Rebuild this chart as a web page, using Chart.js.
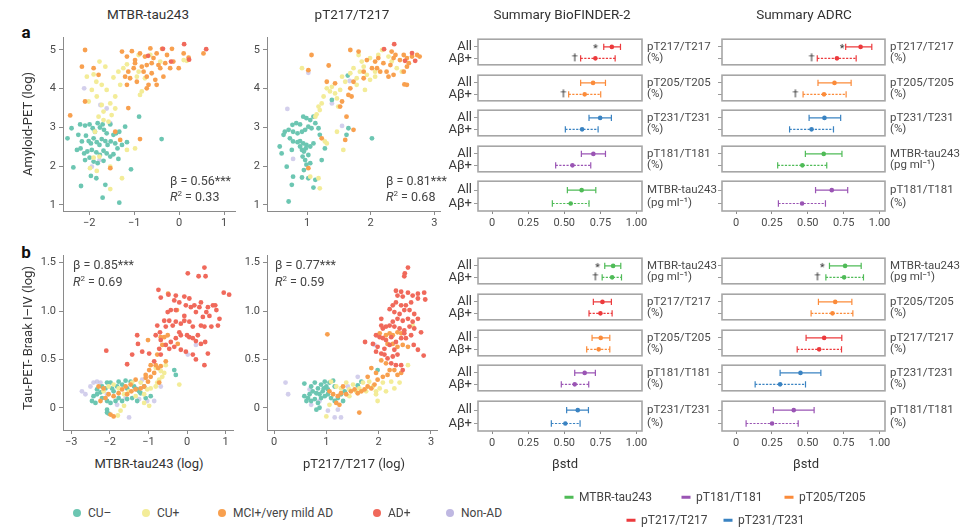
<!DOCTYPE html>
<html lang="en">
<head>
<meta charset="UTF-8">
<title>MTBR-tau243 and p-tau vs amyloid-PET and tau-PET</title>
<script src="https://cdn.jsdelivr.net/npm/chart.js"></script>
<style>
  body { margin: 0; background: #fff; }
  #fig { position: relative; width: 972px; height: 529px; overflow: hidden; font-family: Roboto, "Liberation Sans", sans-serif; color: #3a3a3a; }
  #fig canvas { position: absolute; }
  .t { position: absolute; white-space: nowrap; line-height: 1; }
</style>
</head>
<body>
<div id="fig"></div>
<script>
// ---- groups (scatter) ----
const groupNames = ['CU\u2013', 'CU+', 'MCI+/very mild AD', 'AD+', 'Non-AD'];
const groupColors = ['#6cc6b2', '#f3ec98', '#f8a04f', '#f0695b', 'rgba(196,191,230,0.75)'];
const groupLegendColors = ['#6cc6b2', '#f3ec98', '#f8a04f', '#f0695b', '#bfb8e2'];
const groupOrder = [3, 2, 1, 0, 4];

// panel a, MTBR-tau243 (log) vs amyloid-PET (log)
const a1_cuNeg = [[-2.39,2.98],[-2.48,2.72],[-2.35,1.97],[-2.18,1.49],[-1.96,1.75],[-1.84,1.69],[-1.70,1.19],[-1.64,1.52],[-1.33,1.06],[-1.07,1.92],[-1.16,2.62],[-1.20,3.02],[-0.89,3.28],[-0.39,2.70],[-2.20,3.08],[-2.09,3.05],[-1.99,3.08],[-1.92,2.98],[-1.87,2.89],[-1.81,3.11],[-1.76,3.00],[-1.70,3.08],[-1.67,2.94],[-1.61,2.85],[-1.53,3.08],[-1.46,2.81],[-1.40,2.85],[-1.33,2.89],[-2.24,2.81],[-2.16,2.64],[-2.07,2.79],[-2.01,2.65],[-1.96,2.59],[-1.90,2.72],[-1.83,2.62],[-1.77,2.55],[-1.72,2.70],[-1.64,2.65],[-1.59,2.55],[-1.52,2.64],[-1.42,2.59],[-1.37,2.46],[-1.27,2.55],[-2.27,2.42],[-2.19,2.46],[-2.11,2.33],[-2.04,2.38],[-1.94,2.42],[-1.84,2.36],[-1.76,2.29],[-1.68,2.40],[-1.61,2.33],[-1.53,2.25],[-1.46,2.31],[-1.35,2.19],[-2.09,2.16],[-1.99,2.22],[-1.90,2.12],[-1.81,2.08],[-1.68,2.14]];
const a1_cuPos = [[-1.77,4.70],[-1.64,4.57],[-1.90,4.37],[-2.05,4.31],[-1.84,4.18],[-1.72,4.10],[-1.61,3.97],[-1.46,4.29],[-1.35,4.44],[-1.24,4.53],[-1.16,4.63],[-0.94,4.31],[-0.87,3.84],[-0.83,3.93],[-1.31,4.10],[-1.42,3.80],[-1.53,3.62],[-1.72,3.58],[-1.83,3.80],[-1.94,3.97],[-2.01,3.67],[-1.79,3.28],[-1.68,3.19],[-1.50,3.32],[-1.42,3.49],[-1.87,2.89],[-1.16,2.42],[-0.98,2.46],[-1.53,1.99],[-1.27,1.69],[-1.53,1.41],[-1.83,1.88],[-1.90,2.22],[-1.98,1.95],[-0.90,4.87],[-0.64,4.87],[-0.42,4.70],[0.10,4.74],[0.17,4.72],[-0.76,4.27],[-0.90,4.44],[-1.68,3.41],[-1.57,3.15],[-1.77,2.25]];
const a1_mci = [[-2.09,5.00],[-2.16,4.57],[-1.90,4.53],[-1.79,4.36],[-2.09,3.67],[-2.42,3.31],[-1.13,3.50],[-1.53,1.95],[-1.31,2.68],[-0.87,2.70],[-1.42,2.89],[-1.27,4.96],[-1.16,4.83],[-1.05,4.97],[-0.98,4.74],[-0.87,4.91],[-0.76,4.83],[-0.72,4.61],[-0.64,5.04],[-0.57,4.79],[-0.50,4.91],[-0.38,5.03],[-0.42,4.53],[-0.27,4.87],[-0.16,5.03],[-0.13,4.70],[-0.20,4.53],[-0.35,4.31],[-0.50,4.10],[-0.68,4.10],[-0.79,4.44],[-1.01,4.53],[-1.09,4.27],[-0.98,4.66],[-0.83,4.57],[-0.61,4.40],[-0.53,4.23],[-0.72,4.31],[0.10,4.91],[0.21,4.80],[0.54,4.91],[-0.61,4.66],[-0.46,4.61],[-0.31,4.66],[-0.01,4.53],[-0.94,4.18],[-1.13,4.44],[-1.20,4.31],[-1.16,4.10],[-0.72,4.01]];
const a1_ad = [[0.11,5.15],[0.60,5.02],[-0.36,5.03],[-0.18,4.70],[0.22,4.75],[-0.69,4.85]];
const a1_nonAd = [[-2.11,4.01],[-1.75,3.58],[-1.61,3.49],[-1.94,1.99],[-1.53,3.11],[-1.77,2.16]];

// panel a, pT217/T217 (log) vs amyloid-PET (log)
const a2_cuNeg = [[0.94,3.28],[0.99,3.24],[1.05,3.19],[1.10,3.28],[1.13,3.11],[0.89,3.08],[0.83,3.11],[0.77,3.07],[0.71,2.94],[0.65,2.89],[0.63,2.81],[0.78,2.89],[0.85,2.85],[0.92,2.89],[0.97,2.94],[1.02,3.02],[1.07,2.98],[1.18,2.98],[1.20,2.81],[0.73,2.72],[0.78,2.64],[0.85,2.62],[0.89,2.65],[0.94,2.59],[0.99,2.55],[1.05,2.51],[1.10,2.59],[0.89,2.51],[0.92,2.42],[0.95,2.38],[0.98,2.46],[1.02,2.29],[0.93,2.25],[0.97,2.16],[0.99,2.04],[0.95,1.90],[1.05,2.08],[0.57,2.51],[0.60,2.33],[0.76,2.42],[0.68,1.99],[0.78,1.73],[0.76,1.52],[0.71,1.09],[0.92,1.71],[1.02,1.69],[1.13,1.65],[1.10,1.45],[1.23,2.16],[1.28,2.46],[1.62,2.81],[1.65,2.98],[2.02,2.72],[1.39,3.71],[1.64,4.34]];
const a2_cuPos = [[0.92,4.53],[1.18,3.54],[1.23,3.62],[1.26,3.80],[1.36,3.93],[1.44,3.88],[1.52,3.97],[1.47,3.75],[1.49,3.54],[1.55,4.31],[1.60,4.18],[1.68,4.40],[1.73,4.53],[1.78,4.27],[1.83,4.44],[1.89,4.57],[1.94,4.36],[1.99,4.23],[2.07,4.31],[1.86,4.70],[1.99,4.79],[2.12,4.87],[2.18,5.00],[2.28,4.83],[2.33,4.70],[2.41,4.53],[2.49,4.44],[1.31,4.01],[1.39,4.05],[1.13,3.28],[1.15,3.34],[1.20,3.45],[1.28,2.64],[1.31,2.59],[1.57,2.42],[1.20,1.43],[1.18,1.69],[1.05,1.73],[1.78,4.10],[1.91,3.97],[2.07,4.44],[1.81,4.87],[1.47,2.89]];
const a2_mci = [[1.07,4.87],[1.02,4.48],[1.34,4.60],[1.68,5.00],[1.81,4.96],[1.94,4.74],[2.07,4.70],[2.10,4.53],[2.20,4.66],[2.25,4.44],[2.31,4.61],[2.36,4.79],[2.39,4.87],[2.46,4.74],[2.52,4.87],[2.57,4.79],[2.60,4.66],[2.65,4.83],[2.73,4.87],[2.77,4.83],[2.57,4.57],[2.52,4.44],[2.36,4.36],[2.28,4.31],[2.15,4.44],[2.02,4.53],[1.89,4.44],[1.73,4.18],[1.68,4.01],[1.65,3.84],[1.70,3.80],[1.55,3.67],[1.52,3.54],[1.62,3.28],[1.73,2.94],[1.60,2.68],[1.23,2.72],[2.53,4.11],[2.57,4.10],[1.02,1.95],[1.31,4.18],[1.44,4.14],[1.89,4.27],[2.12,4.79],[2.33,4.96]];
const a2_ad = [[2.37,5.15],[2.65,4.92],[2.70,4.72],[2.54,4.72],[2.21,5.02]];
const a2_nonAd = [[0.69,3.48],[0.78,2.19],[1.55,3.04],[1.67,4.20],[1.02,4.41],[1.39,3.62]];

// panel b, MTBR-tau243 (log) vs tau-PET Braak I-IV (log)
const b1_cuNeg = [[-2.42,0.12],[-2.33,0.19],[-2.24,0.16],[-2.20,0.22],[-2.11,0.20],[-2.07,0.26],[-1.98,0.26],[-1.94,0.20],[-1.90,0.17],[-1.81,0.22],[-1.77,0.27],[-1.68,0.24],[-1.59,0.28],[-1.55,0.20],[-1.46,0.27],[-1.37,0.22],[-1.29,0.19],[-1.20,0.15],[-1.11,0.22],[-2.46,0.07],[-2.37,0.05],[-2.20,0.10],[-2.07,0.07],[-1.98,0.05],[-1.85,0.07],[-1.77,0.10],[-1.68,0.07],[-1.55,0.09],[-1.42,0.10],[-1.29,0.07],[-1.07,0.10],[-0.94,0.12],[-2.07,-0.02],[-2.07,-0.05],[-2.03,-0.06],[-1.24,0.17],[-0.33,0.39],[-0.29,0.34],[-2.33,0.14]];
const b1_cuPos = [[-2.16,0.17],[-2.03,0.22],[-1.90,0.24],[-1.77,0.20],[-1.63,0.14],[-1.50,0.17],[-1.42,0.26],[-1.33,0.12],[-1.20,0.26],[-1.11,0.14],[-1.03,0.19],[-0.94,0.20],[-0.81,0.22],[-0.77,0.26],[-0.72,0.29],[-0.64,0.32],[-0.59,0.36],[-0.81,0.41],[-0.68,0.38],[-0.55,0.44],[-1.11,0.05],[-1.63,0.02],[-1.72,-0.03],[-1.79,-0.08],[-0.20,0.24],[-0.98,0.02]];
const b1_mci = [[-1.01,0.70],[-0.49,1.18],[-0.26,1.01],[-0.68,0.73],[-0.59,0.73],[-0.50,0.75],[-0.64,0.65],[-0.77,0.55],[-0.81,0.44],[-0.75,0.41],[-0.94,0.44],[-0.98,0.39],[-1.07,0.34],[-0.94,0.32],[-0.85,0.36],[-0.68,0.43],[-0.55,0.48],[-1.01,0.27],[-1.11,0.22],[-1.20,0.20],[-1.33,0.19],[-1.44,0.17],[-1.55,0.14],[-1.68,0.19],[-1.59,0.22],[-1.46,0.24],[-1.77,0.15],[-1.90,0.12],[-2.03,0.14],[-2.11,0.10],[-2.24,0.07],[-2.16,0.20],[-2.29,0.22],[-1.98,-0.07],[-1.90,-0.09],[-1.33,0.29],[-1.07,0.31],[-0.24,0.66],[-0.72,0.26]];
const b1_ad = [[-2.09,0.59],[0.02,1.39],[0.30,1.36],[0.45,1.45],[0.48,1.36],[0.95,1.19],[1.09,1.17],[-0.74,1.22],[-0.68,1.14],[-0.48,1.17],[-0.29,1.16],[-0.33,1.11],[-0.20,1.09],[-0.07,1.15],[-0.03,1.06],[0.06,1.13],[0.10,1.04],[0.19,1.06],[0.23,0.99],[0.32,1.04],[0.41,0.94],[0.36,1.09],[0.54,1.04],[0.58,0.95],[0.67,1.06],[0.73,1.06],[0.76,1.01],[0.84,0.92],[0.80,0.85],[0.63,0.84],[0.45,0.84],[0.36,0.85],[0.15,0.84],[0.06,0.89],[-0.07,0.90],[-0.16,0.87],[-0.29,0.89],[-0.37,0.85],[-0.46,0.90],[-0.55,0.84],[-0.59,0.90],[-0.70,0.78],[-0.81,0.75],[-0.77,0.85],[-0.68,0.70],[-0.72,0.61],[-0.55,0.65],[-0.42,0.68],[-0.29,0.72],[-0.20,0.78],[-0.16,0.75],[0.00,0.75],[0.06,0.73],[0.15,0.72],[0.28,0.75],[0.36,0.66],[0.47,0.68],[0.54,0.56],[0.45,0.44],[0.23,0.50],[0.15,0.55],[-0.03,0.58],[-0.16,0.60],[-0.33,0.63],[-0.46,0.61],[-0.68,0.55],[-1.29,0.75],[-1.27,0.66],[-1.42,0.55],[-1.55,0.45],[-1.16,0.58],[-0.98,0.56],[-0.85,0.48],[0.23,0.69],[0.50,0.99],[-0.07,0.95],[-0.29,1.01],[-0.42,1.01],[-0.50,0.99]];
const b1_nonAd = [[-2.72,0.17],[-2.63,0.14],[-2.50,0.22],[-2.42,0.26],[-2.33,0.27],[-2.24,0.26],[-2.07,0.14],[-1.81,0.03],[-1.59,0.10],[-1.50,-0.10],[-1.33,0.20],[-1.24,0.09],[-1.16,0.29],[-1.03,0.07],[-0.85,0.07],[-0.68,0.22],[0.23,0.65],[0.02,0.55]];

// panel b, pT217/T217 (log) vs tau-PET Braak I-IV (log)
const b2_cuNeg = [[0.58,0.25],[0.71,0.22],[0.78,0.26],[0.84,0.20],[0.90,0.24],[0.97,0.27],[1.00,0.22],[1.06,0.26],[1.13,0.28],[1.16,0.22],[0.93,0.17],[0.87,0.14],[0.81,0.15],[0.74,0.17],[0.68,0.14],[0.65,0.10],[0.58,0.12],[0.62,0.07],[0.71,0.07],[0.78,0.09],[0.84,0.05],[0.90,0.10],[0.97,0.12],[1.03,0.14],[1.09,0.10],[1.16,0.07],[1.22,0.10],[1.28,0.14],[1.35,0.17],[1.32,0.07],[0.81,-0.02],[0.87,0.00],[0.95,0.20],[1.03,0.19],[1.98,0.39],[1.60,0.23],[1.67,0.27]];
const b2_cuPos = [[1.09,0.27],[1.19,0.22],[1.28,0.20],[1.38,0.26],[1.44,0.19],[1.51,0.24],[1.57,0.17],[1.63,0.20],[1.70,0.26],[1.76,0.17],[1.82,0.27],[1.89,0.22],[1.95,0.17],[2.02,0.20],[2.08,0.26],[2.14,0.17],[2.24,0.27],[2.30,0.20],[2.40,0.26],[1.06,0.03],[1.00,-0.09],[1.95,0.14],[1.98,0.07],[1.44,0.12],[2.56,0.44],[2.65,0.85]];
const b2_mci = [[1.02,0.76],[1.63,-0.05],[2.02,0.77],[2.14,0.75],[2.21,0.77],[2.27,0.75],[2.36,0.78],[2.43,0.77],[2.17,0.66],[2.27,0.66],[2.36,0.63],[2.46,0.65],[2.56,0.63],[2.05,0.49],[2.14,0.46],[2.21,0.39],[2.30,0.39],[2.36,0.34],[2.43,0.36],[2.17,0.34],[2.08,0.32],[1.98,0.29],[1.92,0.24],[1.86,0.20],[1.79,0.22],[1.73,0.19],[1.67,0.17],[1.60,0.15],[1.54,0.19],[1.47,0.17],[1.38,0.14],[1.28,0.15],[1.22,0.12],[1.13,0.14],[1.06,0.17],[1.32,0.22],[1.86,0.41],[1.79,0.32],[1.95,0.36],[1.19,0.05],[1.25,0.03]];
const b2_ad = [[2.56,1.45],[2.50,1.39],[2.49,1.36],[2.33,1.21],[2.43,1.20],[2.36,1.16],[2.46,1.15],[2.56,1.19],[2.65,1.16],[2.75,1.18],[2.87,1.19],[2.89,1.12],[2.75,1.13],[2.62,1.09],[2.52,1.06],[2.43,1.06],[2.33,1.09],[2.27,1.06],[2.21,1.02],[2.30,0.99],[2.40,0.97],[2.49,1.01],[2.59,1.01],[2.68,0.97],[2.75,0.92],[2.65,0.89],[2.56,0.92],[2.46,0.90],[2.36,0.92],[2.27,0.89],[2.21,0.85],[2.14,0.84],[2.08,0.82],[2.05,0.85],[2.30,0.84],[2.40,0.82],[2.49,0.80],[2.59,0.84],[2.68,0.82],[2.81,0.78],[2.62,0.75],[2.52,0.72],[2.43,0.72],[2.33,0.68],[2.24,0.73],[2.14,0.70],[2.08,0.72],[2.02,0.73],[1.95,0.75],[1.89,0.66],[1.98,0.63],[2.11,0.61],[2.21,0.65],[2.30,0.60],[2.36,0.55],[2.27,0.53],[2.17,0.51],[2.11,0.55],[2.05,0.56],[2.24,0.46],[2.33,0.44],[2.43,0.44],[2.46,0.39],[2.86,0.54],[2.75,0.60],[2.67,0.65],[1.95,0.58],[1.74,0.68],[2.49,0.77],[2.05,0.92]];
const b2_nonAd = [[0.22,0.26],[0.27,0.14],[0.68,0.19],[0.71,0.03],[0.87,0.07],[1.03,-0.03],[1.16,-0.10],[1.28,-0.10],[1.22,-0.02],[1.60,0.32],[1.92,0.65],[1.41,0.22]];

// scatter axes
const a1_xTicks = [-2, -1, 0, 1];
const a2_xTicks = [1, 2, 3];
const b1_xTicks = [-3, -2, -1, 0, 1];
const b2_xTicks = [0, 1, 2, 3];
const a_yTicks = [1, 2, 3, 4, 5];
const a_yLabels = ['1', '2', '3', '4', '5'];
const b_yTicks = [0, 0.5, 1, 1.5];
const b_yLabels = ['0', '0.5', '1.0', '1.5'];
const betaText = ['0.56***', '0.81***', '0.85***', '0.77***'];
const r2Text = ['0.33', '0.68', '0.69', '0.59'];

// ---- summary (forest) panels: [lower, estimate, upper] of βstd ----
const markerColors = { 'MTBR-tau243': '#4fbb57', 'pT181/T181': '#9a55b4', 'pT205/T205': '#fb8b3a', 'pT217/T217': '#ec3a3d', 'pT231/T231': '#3a83c2' };
const markerUnits = { 'MTBR-tau243': '(pg ml\u207B\u00B9)', 'pT181/T181': '(%)', 'pT205/T205': '(%)', 'pT217/T217': '(%)', 'pT231/T231': '(%)' };
const legendMarkers = ['MTBR-tau243', 'pT181/T181', 'pT205/T205', 'pT217/T217', 'pT231/T231'];
const rowLabels = ['All', 'A\u03B2+'];
const fxTicks = [0, 0.25, 0.5, 0.75, 1];
const fxLabels = ['0', '0.25', '0.50', '0.75', '1.00'];

const bfA_names = ['pT217/T217', 'pT205/T205', 'pT231/T231', 'pT181/T181', 'MTBR-tau243'];
const bfA_all = [[0.773,0.829,0.889],[0.613,0.699,0.785],[0.671,0.748,0.826],[0.618,0.701,0.785],[0.521,0.620,0.718]];
const bfA_ab = [[0.613,0.715,0.852],[0.530,0.641,0.752],[0.507,0.623,0.734],[0.440,0.556,0.683],[0.417,0.544,0.671]];
const bfA_star = [0.715, null, null, null, null];
const bfA_dagger = [0.572, 0.493, null, null, null];

const adA_names = ['pT217/T217', 'pT205/T205', 'pT231/T231', 'MTBR-tau243', 'pT181/T181'];
const adA_all = [[0.764,0.868,0.946],[0.571,0.686,0.802],[0.509,0.616,0.729],[0.483,0.611,0.738],[0.554,0.667,0.778]];
const adA_ab = [[0.566,0.703,0.837],[0.467,0.613,0.767],[0.373,0.526,0.679],[0.290,0.462,0.632],[0.295,0.460,0.623]];
const adA_star = [0.738, null, null, null, null];
const adA_dagger = [0.526, 0.413, null, null, null];

const bfB_names = ['MTBR-tau243', 'pT217/T217', 'pT205/T205', 'pT181/T181', 'pT231/T231'];
const bfB_all = [[0.780,0.838,0.891],[0.701,0.764,0.826],[0.692,0.752,0.815],[0.572,0.641,0.715],[0.516,0.593,0.667]];
const bfB_ab = [[0.762,0.831,0.896],[0.671,0.750,0.831],[0.655,0.738,0.815],[0.479,0.572,0.669],[0.410,0.507,0.609]];
const bfB_star = [0.729, null, null, null, null];
const bfB_dagger = [0.715, null, null, null, null];

const adB_names = ['MTBR-tau243', 'pT205/T205', 'pT217/T217', 'pT231/T231', 'pT181/T181'];
const adB_all = [[0.651,0.760,0.872],[0.574,0.691,0.807],[0.488,0.614,0.737],[0.307,0.449,0.591],[0.260,0.402,0.544]];
const adB_ab = [[0.626,0.753,0.888],[0.523,0.672,0.814],[0.426,0.579,0.735],[0.133,0.307,0.484],[0.070,0.251,0.433]];
const adB_star = [0.600, null, null, null, null];
const adB_dagger = [0.567, null, null, null, null];

// ---- helpers ----
const FONT = 'Roboto, "Liberation Sans", sans-serif';
const AXIS = '#8a8a8a';
const TICK = '#4a4a4a';
Chart.defaults.font.family = FONT;
Chart.defaults.animation = false;
Chart.defaults.events = [];

const fig = document.getElementById('fig');

function addCanvas(left, top, w, h) {
    const c = document.createElement('canvas');
    c.width = w; c.height = h;
    c.style.left = left + 'px'; c.style.top = top + 'px';
    c.style.width = w + 'px'; c.style.height = h + 'px';
    fig.appendChild(c);
    return c.getContext('2d');
}

function addText(html, x, y, css, anchor) {
    const d = document.createElement('div');
    d.className = 't';
    d.innerHTML = html;
    d.style.left = x + 'px';
    d.style.top = y + 'px';
    d.style.transform = anchor || 'translate(0,-50%)';
    Object.assign(d.style, css || {});
    fig.appendChild(d);
    return d;
}

function glyph(ch, dy) {
    const c = document.createElement('canvas');
    c.width = 10; c.height = 12;
    const g = c.getContext('2d');
    g.fillStyle = '#333';
    g.font = '11px ' + FONT;
    g.textAlign = 'center';
    g.textBaseline = 'middle';
    g.fillText(ch, 5, 6 + dy);
    return c;
}
const starImg = glyph('*', 2);
const daggerImg = glyph('\u2020', 0);

// fixed axis sizes, no extra label padding
function fixX(hgt) {
    return s => { s.height = hgt; s.paddingLeft = 0; s.paddingRight = 0; s.paddingTop = 0; s.paddingBottom = 0; };
}
function fixY(wid) {
    return s => { s.width = wid; s.paddingTop = 0; s.paddingBottom = 0; s.paddingLeft = 0; s.paddingRight = 0; };
}

// scatter panel
function scatterPanel(pos, sets, xr, yr, xTicks, yTicks, yLabels) {
    const ctx = addCanvas(pos.left, pos.top, pos.w, pos.h);
    new Chart(ctx, {
        type: 'scatter',
        data: {
            datasets: sets.map((pts, g) => ({
                data: pts.map(p => ({ x: p[0], y: p[1] })),
                backgroundColor: groupColors[g],
                pointRadius: 2.4,
                borderWidth: 0,
                order: groupOrder[g]
            }))
        },
        options: {
            responsive: false,
            layout: { padding: { top: pos.pt, right: pos.pr, bottom: 0, left: 0 } },
            plugins: { legend: { display: false }, tooltip: { enabled: false } },
            scales: {
                x: {
                    min: xr[0], max: xr[1],
                    grid: { drawOnChartArea: false, tickLength: 4, color: AXIS },
                    border: { color: AXIS },
                    afterBuildTicks: s => { s.ticks = xTicks.map(v => ({ value: v })); },
                    ticks: { autoSkip: false, maxRotation: 0, padding: 2, color: TICK, font: { size: 11 },
                        callback: v => (v < 0 ? '\u2212' + Math.abs(v) : String(v)) },
                    afterFit: fixX(19)
                },
                y: {
                    min: yr[0], max: yr[1],
                    grid: { drawOnChartArea: false, tickLength: 4, color: AXIS },
                    border: { color: AXIS },
                    afterBuildTicks: s => { s.ticks = yTicks.map(v => ({ value: v })); },
                    ticks: { autoSkip: false, padding: 3, color: TICK, font: { size: 11 },
                        callback: (v, i) => yLabels[i] },
                    afterFit: fixY(30)
                }
            }
        }
    });
}

// frame around each summary box
const framePlugin = {
    id: 'frame',
    beforeDatasetsDraw(chart) {
        const a = chart.chartArea, c = chart.ctx;
        c.save();
        c.strokeStyle = '#a6a6a6';
        c.lineWidth = 1.6;
        c.strokeRect(a.left, a.top, a.right - a.left, a.bottom - a.top);
        c.restore();
    }
};

function forestPanel(left, width, yW, y2W, tops, names, allCI, abCI, stars, daggers, showRows) {
    const boxH = 34;
    names.forEach((name, i) => {
        const last = i === names.length - 1;
        const h = boxH + 2 + (last ? 18 : 0);
        const ctx = addCanvas(left, tops[i] - 1, width, h);
        const col = markerColors[name];
        const rows = [allCI[i], abCI[i]];
        const ds = rows.map((ci, r) => ({
            data: [{ x: ci[0], y: r }, { x: ci[2], y: r }],
            showLine: true,
            borderColor: col,
            borderWidth: 1.2,
            borderDash: r === 1 ? [2.2, 1.4] : [],
            pointStyle: 'line',
            rotation: 90,
            pointRadius: 3.2,
            pointBorderColor: col,
            pointBorderWidth: 1.2
        }));
        ds.push({
            data: rows.map((ci, r) => ({ x: ci[1], y: r })),
            pointRadius: 2.3,
            backgroundColor: col,
            borderWidth: 0
        });
        if (stars[i] !== null) ds.push({ data: [{ x: stars[i], y: 0 }], pointStyle: starImg });
        if (daggers[i] !== null) ds.push({ data: [{ x: daggers[i], y: 1 }], pointStyle: daggerImg });

        new Chart(ctx, {
            type: 'scatter',
            data: { datasets: ds },
            options: {
                responsive: false,
                layout: { padding: { top: 1, bottom: last ? 0 : 1, left: 0, right: 0 } },
                plugins: { legend: { display: false }, tooltip: { enabled: false } },
                scales: {
                    x: {
                        min: -0.098, max: 1.038,
                        display: last,
                        grid: { drawOnChartArea: false, tickLength: 3, color: AXIS },
                        border: { display: false },
                        afterBuildTicks: s => { s.ticks = fxTicks.map(v => ({ value: v })); },
                        ticks: { autoSkip: false, maxRotation: 0, padding: 3, color: TICK, font: { size: 11 },
                            callback: (v, k) => fxLabels[k] },
                        afterFit: fixX(last ? 19 : 0)
                    },
                    y: {
                        reverse: true, min: -0.67, max: 1.56,
                        grid: { drawOnChartArea: false, tickLength: 4, color: '#9a9a9a' },
                        border: { display: false },
                        afterBuildTicks: s => { s.ticks = [0, 1].map(v => ({ value: v })); },
                        ticks: { display: showRows, autoSkip: false, padding: 2, color: '#3a3a3a', font: { size: 13 },
                            callback: (v, k) => rowLabels[k] },
                        afterFit: fixY(yW)
                    },
                    y2: {
                        position: 'right', reverse: true, min: -0.67, max: 1.56,
                        grid: { display: false, drawTicks: false },
                        border: { display: false },
                        afterBuildTicks: s => { s.ticks = [0, 1].map(v => ({ value: v })); },
                        ticks: { autoSkip: false, padding: 5, color: '#4a4a4a', font: { size: 11.5 },
                            callback: (v, k) => (k === 0 ? name : markerUnits[name]) },
                        afterFit: fixY(y2W)
                    }
                }
            },
            plugins: [framePlugin]
        });
    });
}

// ---- scatter panels ----
scatterPanel({ left: 33, top: 30, w: 210, h: 200, pt: 7, pr: 8 },
    [a1_cuNeg, a1_cuPos, a1_mci, a1_ad, a1_nonAd], [-2.58, 1.24], [0.845, 5.335], a1_xTicks, a_yTicks, a_yLabels);
scatterPanel({ left: 237, top: 30, w: 210, h: 200, pt: 7, pr: 7 },
    [a2_cuNeg, a2_cuPos, a2_mci, a2_ad, a2_nonAd], [0.37, 3.09], [0.845, 5.335], a2_xTicks, a_yTicks, a_yLabels);
scatterPanel({ left: 33, top: 248, w: 210, h: 201, pt: 7, pr: 10 },
    [b1_cuNeg, b1_cuPos, b1_mci, b1_ad, b1_nonAd], [-3.21, 1.19], [-0.23, 1.58], b1_xTicks, b_yTicks, b_yLabels);
scatterPanel({ left: 237, top: 248, w: 210, h: 201, pt: 7, pr: 10 },
    [b2_cuNeg, b2_cuPos, b2_mci, b2_ad, b2_nonAd], [-0.134, 3.115], [-0.23, 1.58], b2_xTicks, b_yTicks, b_yLabels);

// ---- summary panels ----
const topsA = [35, 71, 106, 142, 177];
const topsB = [254, 290, 326, 361, 397];
forestPanel(440, 280, 38, 78, topsA, bfA_names, bfA_all, bfA_ab, bfA_star, bfA_dagger, true);
forestPanel(684, 288, 38, 87, topsA, adA_names, adA_all, adA_ab, adA_star, adA_dagger, false);
forestPanel(440, 280, 38, 78, topsB, bfB_names, bfB_all, bfB_ab, bfB_star, bfB_dagger, true);
forestPanel(684, 288, 38, 87, topsB, adB_names, adB_all, adB_ab, adB_star, adB_dagger, false);

// ---- text ----
const titleCss = { fontSize: '13.5px', color: '#333' };
const ctr = 'translate(-50%,-50%)';
addText('MTBR-tau243', 148, 15, titleCss, ctr);
addText('pT217/T217', 352, 15, titleCss, ctr);
addText('Summary BioFINDER-2', 562, 15, titleCss, ctr);
addText('Summary ADRC', 804, 15, titleCss, ctr);
addText('a', 26, 32, { fontSize: '17px', fontWeight: 'bold', color: '#111' }, ctr);
addText('b', 26, 252, { fontSize: '17px', fontWeight: 'bold', color: '#111' }, ctr);

const axTitleCss = { fontSize: '13px', color: '#333' };
addText('Amyloid-PET (log)', 27, 124, axTitleCss, 'translate(-50%,-50%) rotate(-90deg)');
addText('Tau-PET- Braak I\u2013IV (log)', 27, 338, axTitleCss, 'translate(-50%,-50%) rotate(-90deg)');
addText('MTBR-tau243 (log)', 149, 463, axTitleCss, ctr);
addText('pT217/T217 (log)', 354, 463, axTitleCss, ctr);
addText('\u03B2std', 565, 463, axTitleCss, ctr);
addText('\u03B2std', 806, 463, axTitleCss, ctr);

const statCss = { fontSize: '12.5px', color: '#444' };
const statPos = [[170, 181, 197], [386, 181, 197], [73, 265, 282], [275, 265, 282]];
statPos.forEach((p, i) => {
    addText('\u03B2 = ' + betaText[i], p[0], p[1], statCss);
    addText('<i>R</i><sup style="font-size:8px;vertical-align:5px">2</sup> = ' + r2Text[i], p[0], p[2], statCss);
});

// ---- legends ----
const groupLegendX = [77, 146, 222, 377, 450];
groupNames.forEach((n, g) => {
    addText('', groupLegendX[g], 513, { width: '8px', height: '8px', borderRadius: '50%', background: groupLegendColors[g] }, ctr);
    addText(n, groupLegendX[g] + 11, 513, { fontSize: '12px', color: '#444' });
});
const markerLegendPos = [[569, 497], [686, 497], [789, 497], [631, 520], [728, 520]];
legendMarkers.forEach((n, k) => {
    const p = markerLegendPos[k];
    addText('', p[0], p[1], { width: '9px', height: '2.5px', background: markerColors[n] }, ctr);
    addText(n, p[0] + 10, p[1], { fontSize: '12px', color: '#444' });
});
</script>
</body>
</html>
